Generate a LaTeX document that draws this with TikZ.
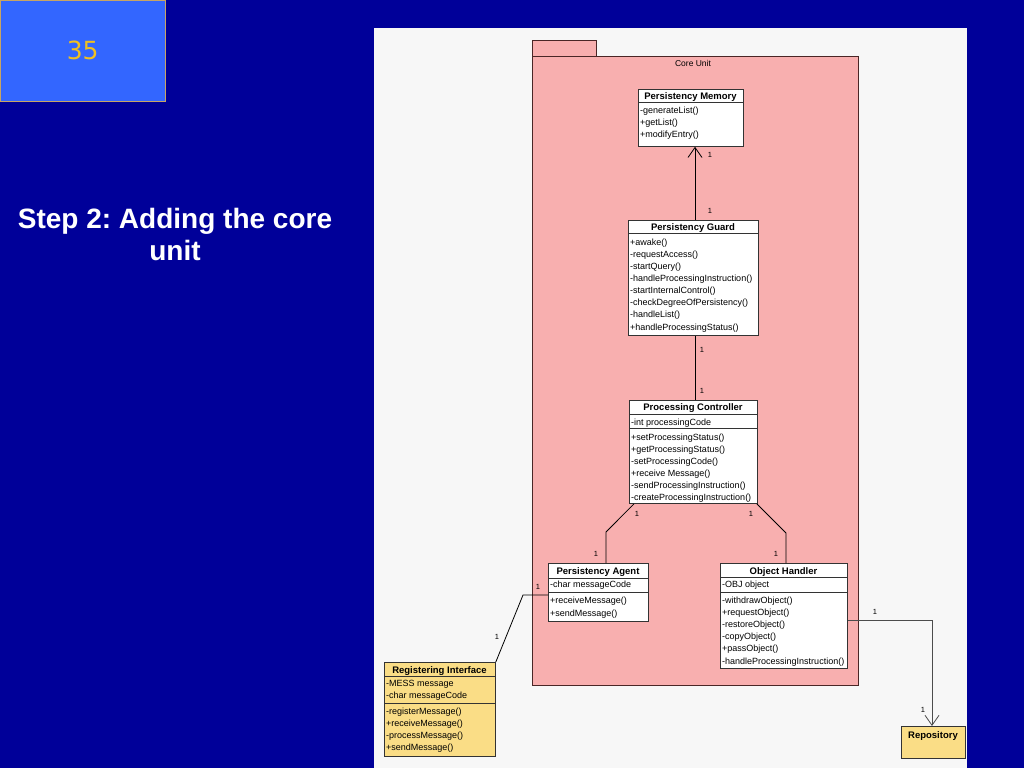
\documentclass[tikz,border=0pt]{standalone}
\usepackage{fontspec}
\setmainfont{Liberation Sans}
\newfontfamily\numfont{DejaVu Sans}
\usetikzlibrary{arrows.meta,positioning,calc}

\definecolor{slideblue}{HTML}{000099}
\definecolor{numblue}{HTML}{3366FF}
\definecolor{numgold}{HTML}{F0C020}
\definecolor{numedge}{HTML}{C8A464}
\definecolor{panel}{HTML}{F7F7F7}
\definecolor{pkgpink}{HTML}{F8AFAF}
\definecolor{pkgedge}{HTML}{4A2626}
\definecolor{clsyellow}{HTML}{FADD86}

\begin{document}
\frenchspacing
\begin{tikzpicture}[x=1pt, y=-1pt,
      cls/.style={draw=black!80, line width=0.8pt, fill=white, inner sep=0pt,
        anchor=north west},
      ycls/.style={cls, fill=clsyellow},
      sep/.style={black!80, line width=0.8pt},
      ttl/.style={font=\fontsize{9.5}{12}\selectfont\bfseries, inner sep=0pt,
        anchor=base},
      ops/.style={font=\fontsize{9}{12.1}\selectfont, align=left, inner sep=0pt,
        anchor=base west},
      mult/.style={font=\fontsize{7.5}{9}\selectfont, inner sep=0pt},
      assoc/.style={line width=0.8pt, black},
      nav/.style={assoc, -{Straight Barb[length=10pt, width=14pt]}}
    ]
    \useasboundingbox (0,0) rectangle (1024,768);
    % slide background
    \fill[slideblue] (0,0) rectangle (1024,768);
    \node[draw=numedge, fill=numblue, minimum width=165pt, minimum height=101pt,
      anchor=north west, inner sep=0pt] (num) at (0,0)
      {\numfont\fontsize{25}{28}\selectfont\color{numgold}35};
    \node[align=center, text=white, font=\fontsize{28}{32}\selectfont\bfseries]
      (title) at (175,234) {Step 2: Adding the core\\unit};

    % diagram panel
    \fill[panel] (374,28) rectangle (967,768);

    % package Core Unit
    \draw[pkgedge, fill=pkgpink, line width=0.8pt] (532,40) rectangle (596,56);
    \draw[pkgedge, fill=pkgpink, line width=0.8pt] (532,56) rectangle (858,685);
    \node[font=\fontsize{8.5}{10}\selectfont, inner sep=0pt] (core) at (693,63) {Core Unit};

    % Persistency Memory (titles and ops sit on baselines; ops on the last line)
    \node[cls, minimum width=105pt, minimum height=57pt] (pm) at (638,89) {};
    \node[ttl] (pmT) at (690.5,99.5) {Persistency Memory};
    \draw[sep] (638,102) -- (743,102);
    \node[ops] (pmO) at (640,137.7) {-generateList()\\+getList()\\+modifyEntry()};

    % Persistency Guard
    \node[cls, minimum width=130pt, minimum height=115pt] (pg) at (628,220) {};
    \node[ttl] (pgT) at (693,230.5) {Persistency Guard};
    \draw[sep] (628,233) -- (758,233);
    \node[ops] (pgO) at (630,330) {+awake()\\-requestAccess()\\-startQuery()\\
      -handleProcessingInstruction()\\-startInternalControl()\\
      -checkDegreeOfPersistency()\\-handleList()\\+handleProcessingStatus()};

    % Processing Controller
    \node[cls, minimum width=128pt, minimum height=103pt] (pc) at (629,400) {};
    \node[ttl] (pcT) at (693,410.5) {Processing Controller};
    \draw[sep] (629,414) -- (757,414);
    \node[ops] (pcA) at (631,425) {-int processingCode};
    \draw[sep] (629,428) -- (757,428);
    \node[ops] (pcO) at (631,500.5) {+setProcessingStatus()\\+getProcessingStatus()\\
      -setProcessingCode()\\+receive Message()\\-sendProcessingInstruction()\\
      -createProcessingInstruction()};

    % Persistency Agent
    \node[cls, minimum width=100pt, minimum height=58pt] (pa) at (548,563) {};
    \node[ttl] (paT) at (598,574.5) {Persistency Agent};
    \draw[sep] (548,578) -- (648,578);
    \node[ops] (paA) at (550,587.3) {-char messageCode};
    \draw[sep] (548,592) -- (648,592);
    \node[ops] (paO) at (550,616) {+receiveMessage()\\+sendMessage()};

    % Object Handler
    \node[cls, minimum width=127pt, minimum height=105pt] (oh) at (720,563) {};
    \node[ttl] (ohT) at (783.5,574.5) {Object Handler};
    \draw[sep] (720,577) -- (847,577);
    \node[ops] (ohA) at (722,587.3) {-OBJ object};
    \draw[sep] (720,592) -- (847,592);
    \node[ops] (ohO) at (722,664) {-withdrawObject()\\+requestObject()\\-restoreObject()\\
      -copyObject()\\+passObject()\\-handleProcessingInstruction()};

    % Registering Interface
    \node[ycls, minimum width=111pt, minimum height=94pt] (ri) at (384,662) {};
    \node[ttl] (riT) at (439.5,673) {Registering Interface};
    \draw[sep] (384,676) -- (495,676);
    \node[ops] (riA) at (386,698.3) {-MESS message\\-char messageCode};
    \draw[sep] (384,703) -- (495,703);
    \node[ops] (riO) at (386,750.3) {-registerMessage()\\+receiveMessage()\\
      -processMessage()\\+sendMessage()};

    % Repository
    \node[ycls, minimum width=64pt, minimum height=32pt] (rep) at (901,726) {};
    \node[ttl] (repT) at (933,738) {Repository};

    % associations
    \draw[nav] (pg.north -| 695,0) -- (pm.south -| 695,0);
    \node[mult] (m1) at (710,155) {1};
    \node[mult] (m2) at (710,211) {1};

    \draw[assoc] (pc.north -| 695,0) -- (pg.south -| 695,0);
    \node[mult] (m3) at (702,350) {1};
    \node[mult] (m4) at (702,391) {1};

    \coordinate (bendL) at (606,532);
    \draw[assoc] ([xshift=5pt]pc.south west) -- (bendL) -- (bendL |- pa.north);
    \node[mult] (m5) at (637,514) {1};
    \node[mult] (m6) at (596,554) {1};

    \coordinate (bendR) at (786,533);
    \draw[assoc] ([xshift=-1pt]pc.south east) -- (bendR) -- (bendR |- oh.north);
    \node[mult] (m7) at (751,514) {1};
    \node[mult] (m8) at (776,554) {1};

    \coordinate (bendI) at (523,595);
    \draw[assoc] (pa.west |- bendI) -- (bendI) -- (ri.north east);
    \node[mult] (m9) at (538,587) {1};
    \node[mult] (m10) at (497,637) {1};

    \coordinate (bendE) at (932,620);
    \draw[nav, black!70] (oh.east |- bendE) -- (bendE) -- (bendE |- rep.north);
    \node[mult] (m11) at (875,612) {1};
    \node[mult] (m12) at (923,710) {1};
  \end{tikzpicture}
\end{document}
